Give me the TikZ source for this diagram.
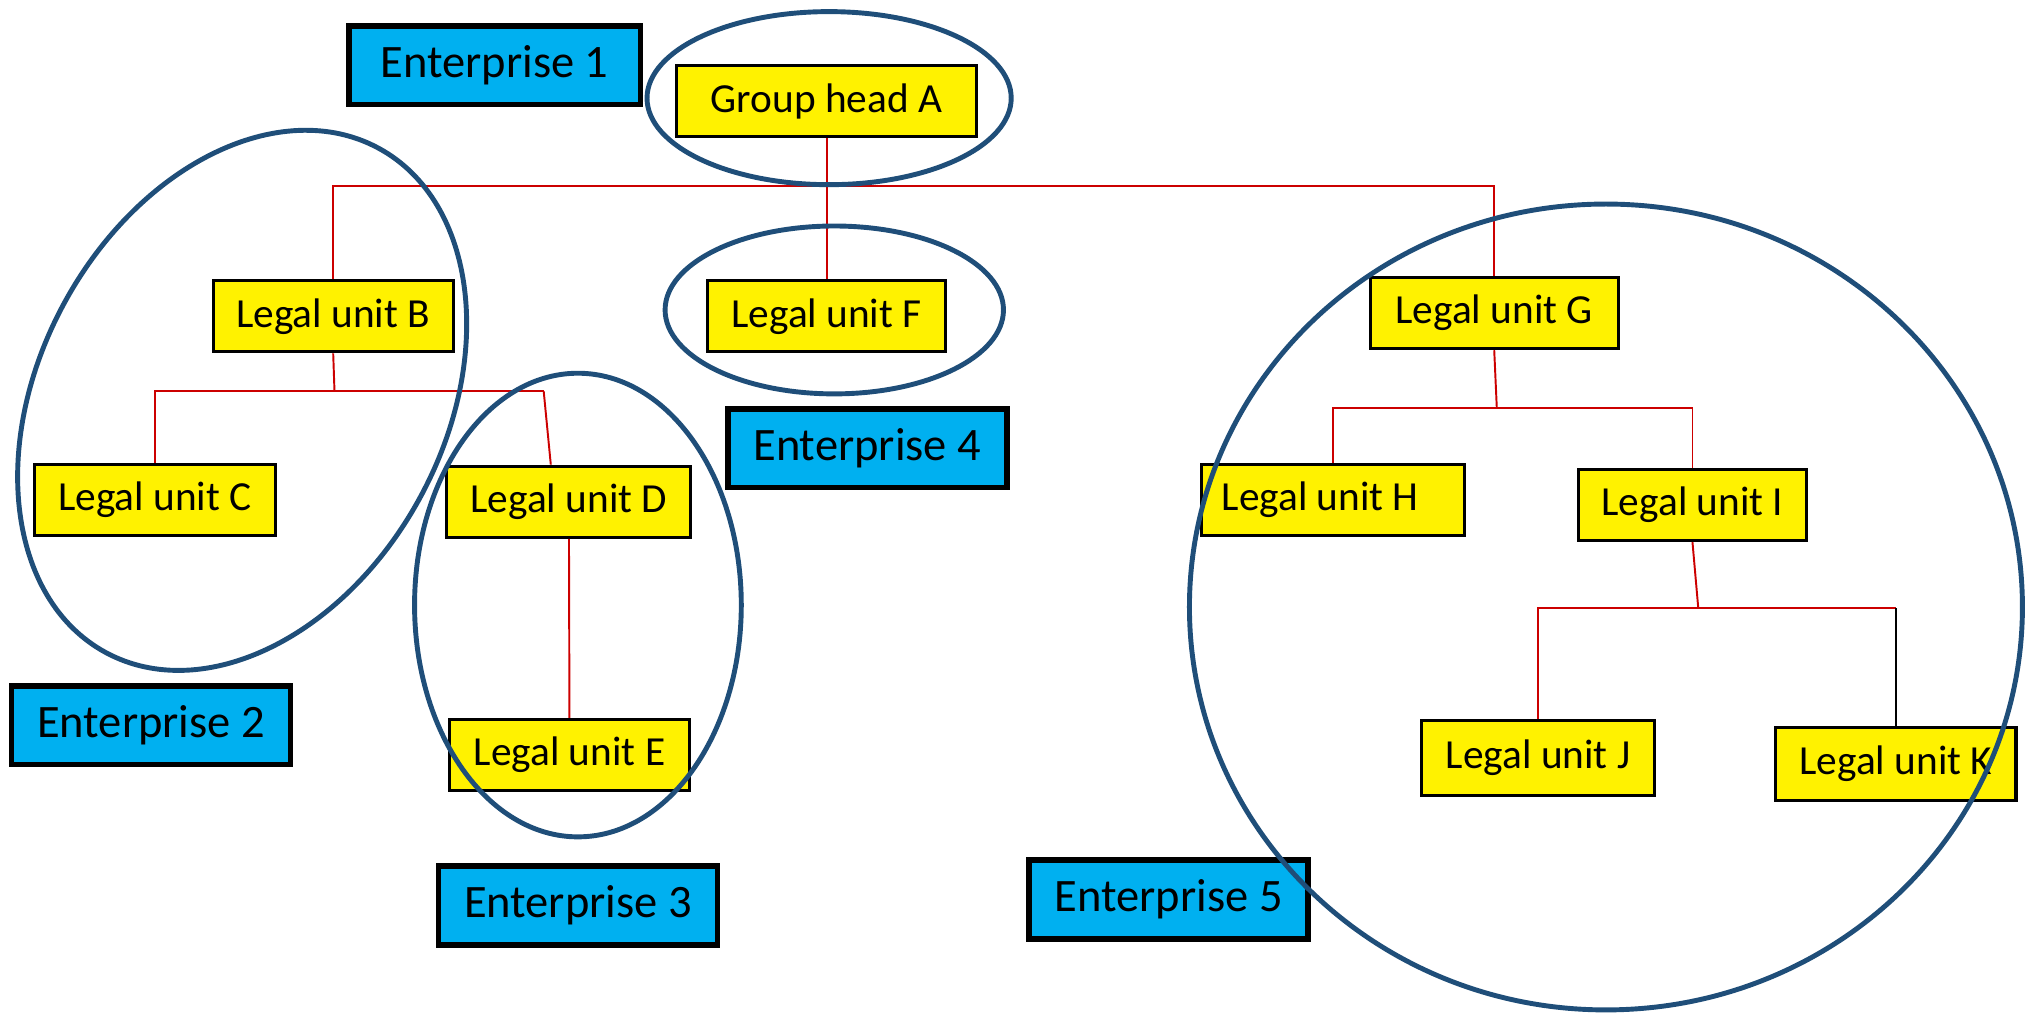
\documentclass[tikz,border=0pt]{standalone}
\usepackage{fontspec}
\setmainfont{Carlito}
\usepackage{tikz}
\definecolor{entblue}{RGB}{0,176,240}
\definecolor{ringblue}{RGB}{31,78,121}
\definecolor{linkred}{RGB}{204,0,0}

\begin{document}
\begin{tikzpicture}[x=0.5pt,y=0.5pt,yscale=-1,xscale=1,
  unit/.style={draw=black,line width=1.2pt,fill=yellow,inner sep=0pt,minimum width=93pt,minimum height=27.5pt,font=\fontsize{16}{19}\selectfont},
  ent/.style={draw=black,line width=2.2pt,fill=entblue,inner sep=0pt,minimum width=108pt,minimum height=30.5pt,font=\fontsize{18}{22}\selectfont},
  ring/.style={draw=ringblue,line width=1.9pt},
  link/.style={draw=linkred,line width=0.75pt}]
\useasboundingbox (0,0) rectangle (1568,785);
% Enterprise labels
\node [ent,minimum width=113pt] (ent1) at (383,50.5) {Enterprise 1};
\node [ent] (ent2) at (117,561.5) {Enterprise 2};
\node [ent] (ent3) at (447.5,701) {Enterprise 3};
\node [ent] (ent4) at (671.5,347) {Enterprise 4};
\node [ent] (ent5) at (905,696.5) {Enterprise 5};
% Legal units
\node [unit,minimum width=116pt] (A) at (640,78.5) {Group head A};
\node [unit] (B) at (258,245) {Legal unit B};
\node [unit] (C) at (120,387) {Legal unit C};
\node [unit,minimum width=94.5pt] (D) at (440.5,388.5) {Legal unit D};
\node [unit] (E) at (441,584.5) {Legal unit E};
\node [unit,minimum width=92pt] (F) at (640,245) {Legal unit F};
\node [unit,minimum width=96pt] (G) at (1157,242.5) {Legal unit G};
\node [unit,minimum width=102pt] (H) at (1032,387) {\makebox[86pt][l]{Legal unit H}};
\node [unit,minimum width=88.5pt] (I) at (1310.5,391) {Legal unit I};
\node [unit,minimum width=90pt,minimum height=29pt] (J) at (1191,587) {Legal unit J};
\node [unit,minimum height=28.5pt] (K) at (1468,591.5) {Legal unit K};
% Junctions
\coordinate (bar) at (640,144);
\coordinate (bj) at (259,303);
\coordinate (dj) at (421,303);
\coordinate (gj) at (1159,316);
\coordinate (ij) at (1315,471);
% Links
\draw [link] (A) -- (F);
\draw [link] (B.north) -- (B.north |- bar) -- (G.north |- bar) -- (G.north);
\draw [link] (B.south) -- (bj);
\draw [link] (C.north) |- (dj);
\draw [link] (dj) -- ([xshift=-7pt]D.north);
\draw [link] (D) -- (E);
\draw [link] (G.south) -- (gj);
\draw [link] (H.north) |- (gj) -| (I.north);
\draw [link] (I.south) -- (ij);
\draw [link] (J.north) |- (K.north |- ij);
\draw [line width=0.75pt] (K.north |- ij) -- (K.north);
% Enterprise rings
\draw [ring] (642,76) ellipse [x radius=141, y radius=67];
\draw [ring, rotate around={-61.6:(187.5,310)}] (187.5,310) ellipse [x radius=222, y radius=157];
\draw [ring] (447.5,468.5) ellipse [x radius=126.5, y radius=179.5];
\draw [ring] (646,240) ellipse [x radius=131, y radius=65];
\draw [ring] (1243.5,470) ellipse [x radius=322.5, y radius=312];
\end{tikzpicture}
\end{document}
